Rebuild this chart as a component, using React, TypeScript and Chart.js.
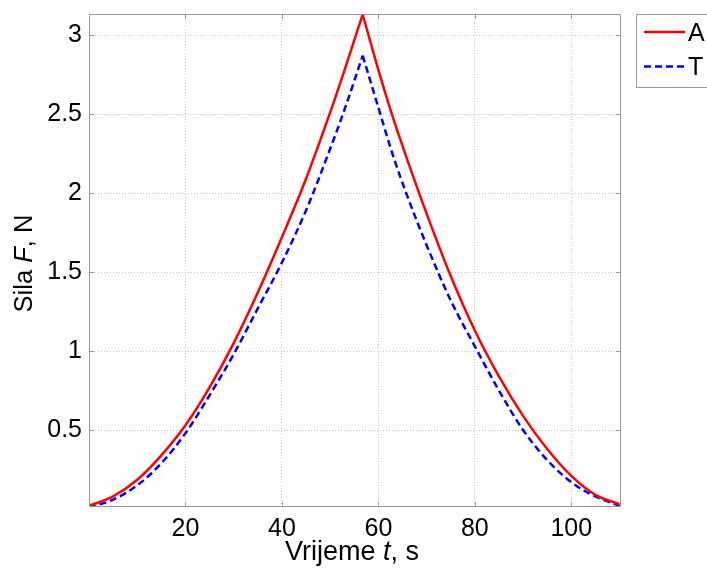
import { useEffect, useRef } from "react";
import { Chart, registerables } from "chart.js";

Chart.register(...registerables);

// Time, s
const timeS = [0, 5, 10, 15, 20, 25, 30, 35, 40, 45, 50, 53, 56.75, 60, 63, 66, 70, 75, 80, 85, 90, 95, 100, 105, 110];
// Force F, N — series A (red, solid)
const forceA = [0.02, 0.08, 0.185, 0.34, 0.53, 0.77, 1.05, 1.37, 1.72, 2.09, 2.51, 2.78, 3.13, 2.78, 2.48, 2.21, 1.87, 1.475, 1.13, 0.84, 0.59, 0.38, 0.21, 0.09, 0.03];
// Force F, N — series T (blue, dashed)
const forceT = [0.01, 0.06, 0.15, 0.29, 0.48, 0.72, 0.98, 1.27, 1.56, 1.89, 2.28, 2.53, 2.87, 2.54, 2.24, 1.98, 1.67, 1.32, 1.03, 0.75, 0.5, 0.31, 0.17, 0.08, 0.02];

const seriesLabels = ["A", "T"];
const seriesColors = ["#ff0000", "#0000ff"];
const seriesDash = [[], [7, 4]];
const xTickValues = [20, 40, 60, 80, 100];
const yTickValues = [0.5, 1, 1.5, 2, 2.5, 3];
const xTitleParts: [string, boolean][] = [["Vrijeme ", false], ["t", true], [", s", false]];
const yTitleParts: [string, boolean][] = [["Sila ", false], ["F", true], [", N", false]];

const FONT = "'Liberation Sans', Arial, sans-serif";
const AXIS_COLOR = "#9a9a9a";
const GRID_COLOR = "#c4c4c4";

function drawParts(ctx: CanvasRenderingContext2D, parts: [string, boolean][], size: number) {
  const fonts = parts.map(([, it]) => `${it ? "italic " : ""}${size}px ${FONT}`);
  let total = 0;
  const widths = parts.map(([t], i) => {
    ctx.font = fonts[i];
    const w = ctx.measureText(t).width;
    total += w;
    return w;
  });
  let x = -total / 2;
  parts.forEach(([t], i) => {
    ctx.font = fonts[i];
    ctx.fillText(t, x, 0);
    x += widths[i];
  });
}

const decorPlugin = {
  id: "decor",
  afterDraw(chart: any) {
    const { ctx, chartArea, scales } = chart;
    const { left, right, top, bottom } = chartArea;
    ctx.save();
    ctx.strokeStyle = AXIS_COLOR;
    ctx.lineWidth = 1;
    ctx.setLineDash([]);
    ctx.strokeRect(left + 0.5, top + 0.5, right - left - 1, bottom - top - 1);
    const tl = 5;
    ctx.beginPath();
    xTickValues.forEach((v) => {
      const px = Math.round(scales.x.getPixelForValue(v)) + 0.5;
      ctx.moveTo(px, bottom);
      ctx.lineTo(px, bottom - tl);
      ctx.moveTo(px, top);
      ctx.lineTo(px, top + tl);
    });
    yTickValues.forEach((v) => {
      const py = Math.round(scales.y.getPixelForValue(v)) + 0.5;
      ctx.moveTo(left, py);
      ctx.lineTo(left + tl, py);
      ctx.moveTo(right, py);
      ctx.lineTo(right - tl, py);
    });
    ctx.stroke();

    ctx.fillStyle = "#000";
    ctx.textBaseline = "alphabetic";
    ctx.textAlign = "left";
    ctx.save();
    ctx.translate((left + right) / 2 - 3, 560);
    drawParts(ctx, xTitleParts, 27);
    ctx.restore();
    ctx.save();
    ctx.translate(32, (top + bottom) / 2 + 3);
    ctx.rotate(-Math.PI / 2);
    drawParts(ctx, yTitleParts, 25.5);
    ctx.restore();

    // legend
    const bx = 636, by = 14, bh = 73;
    ctx.fillStyle = "#fff";
    ctx.fillRect(bx, by, 100, bh);
    ctx.strokeStyle = AXIS_COLOR;
    ctx.lineWidth = 1;
    ctx.strokeRect(bx + 0.5, by + 0.5, 100, bh);
    const rows = [32, 66.5];
    const legendSets = chart.data.datasets.filter((ds: any) => ds.inLegend);
    legendSets.forEach((ds: any, i: number) => {
      const y = rows[i];
      ctx.strokeStyle = ds.borderColor;
      ctx.lineWidth = ds.borderWidth;
      ctx.setLineDash(ds.borderDash || []);
      ctx.beginPath();
      ctx.moveTo(644, y);
      ctx.lineTo(685, y);
      ctx.stroke();
      ctx.setLineDash([]);
      ctx.fillStyle = "#000";
      ctx.font = `25px ${FONT}`;
      ctx.textBaseline = "middle";
      ctx.textAlign = "left";
      ctx.fillText(ds.label, 688, y + 2);
    });
    ctx.restore();
  },
};

function buildDatasets() {
  const peakIdx = forceA.indexOf(Math.max(...forceA));
  const all = [forceA, forceT];
  const out: any[] = [];
  all.forEach((vals, s) => {
    const pts = timeS.map((t, i) => ({ x: t, y: vals[i] }));
    const parts = [pts.slice(0, peakIdx + 1), pts.slice(peakIdx)];
    parts.forEach((data, k) => {
      out.push({
        label: seriesLabels[s],
        inLegend: k === 0,
        data,
        borderColor: seriesColors[s],
        borderWidth: 2.5,
        borderDash: seriesDash[s],
        pointRadius: 0,
        cubicInterpolationMode: "monotone",
        fill: false,
      });
    });
  });
  return out;
}

export default function App() {
  const canvasRef = useRef<HTMLCanvasElement | null>(null);

  useEffect(() => {
    const canvas = canvasRef.current;
    if (!canvas) return;
    const chart = new Chart(canvas, {
      type: "line",
      data: { datasets: buildDatasets() },
      options: {
        responsive: false,
        animation: false,
        devicePixelRatio: 1,
        layout: { padding: { left: 0, top: 14, right: 86, bottom: 0 } },
        plugins: {
          legend: { display: false },
          tooltip: { enabled: false },
        },
        scales: {
          x: {
            type: "linear",
            min: 0,
            max: 110.3,
            afterBuildTicks: (scale: any) => {
              scale.ticks = xTickValues.map((v) => ({ value: v }));
            },
            afterFit: (scale: any) => {
              scale.height = 65;
              scale.paddingLeft = 0;
              scale.paddingRight = 0;
            },
            grid: { color: GRID_COLOR, lineWidth: 1, drawTicks: false },
            border: { display: false, dash: [1, 2] },
            ticks: {
              color: "#000",
              font: { family: FONT, size: 25 },
              padding: 7,
              maxRotation: 0,
              callback: (v: any) => String(v),
            },
          },
          y: {
            type: "linear",
            min: 0.013,
            max: 3.133,
            afterBuildTicks: (scale: any) => {
              scale.ticks = yTickValues.map((v) => ({ value: v }));
            },
            afterFit: (scale: any) => {
              scale.width = 89;
              scale.paddingTop = 0;
              scale.paddingBottom = 0;
            },
            grid: { color: GRID_COLOR, lineWidth: 1, drawTicks: false },
            border: { display: false, dash: [1, 2] },
            ticks: {
              color: "#000",
              font: { family: FONT, size: 25 },
              padding: 7,
              callback: (v: any) => String(v),
            },
          },
        },
      },
      plugins: [decorPlugin],
    });
    return () => chart.destroy();
  }, []);

  return (
    <div style={{ position: "absolute", left: 0, top: 0, width: 707, height: 572, background: "#fff" }}>
      <canvas ref={canvasRef} width={707} height={572} style={{ width: 707, height: 572, display: "block" }} />
    </div>
  );
}
